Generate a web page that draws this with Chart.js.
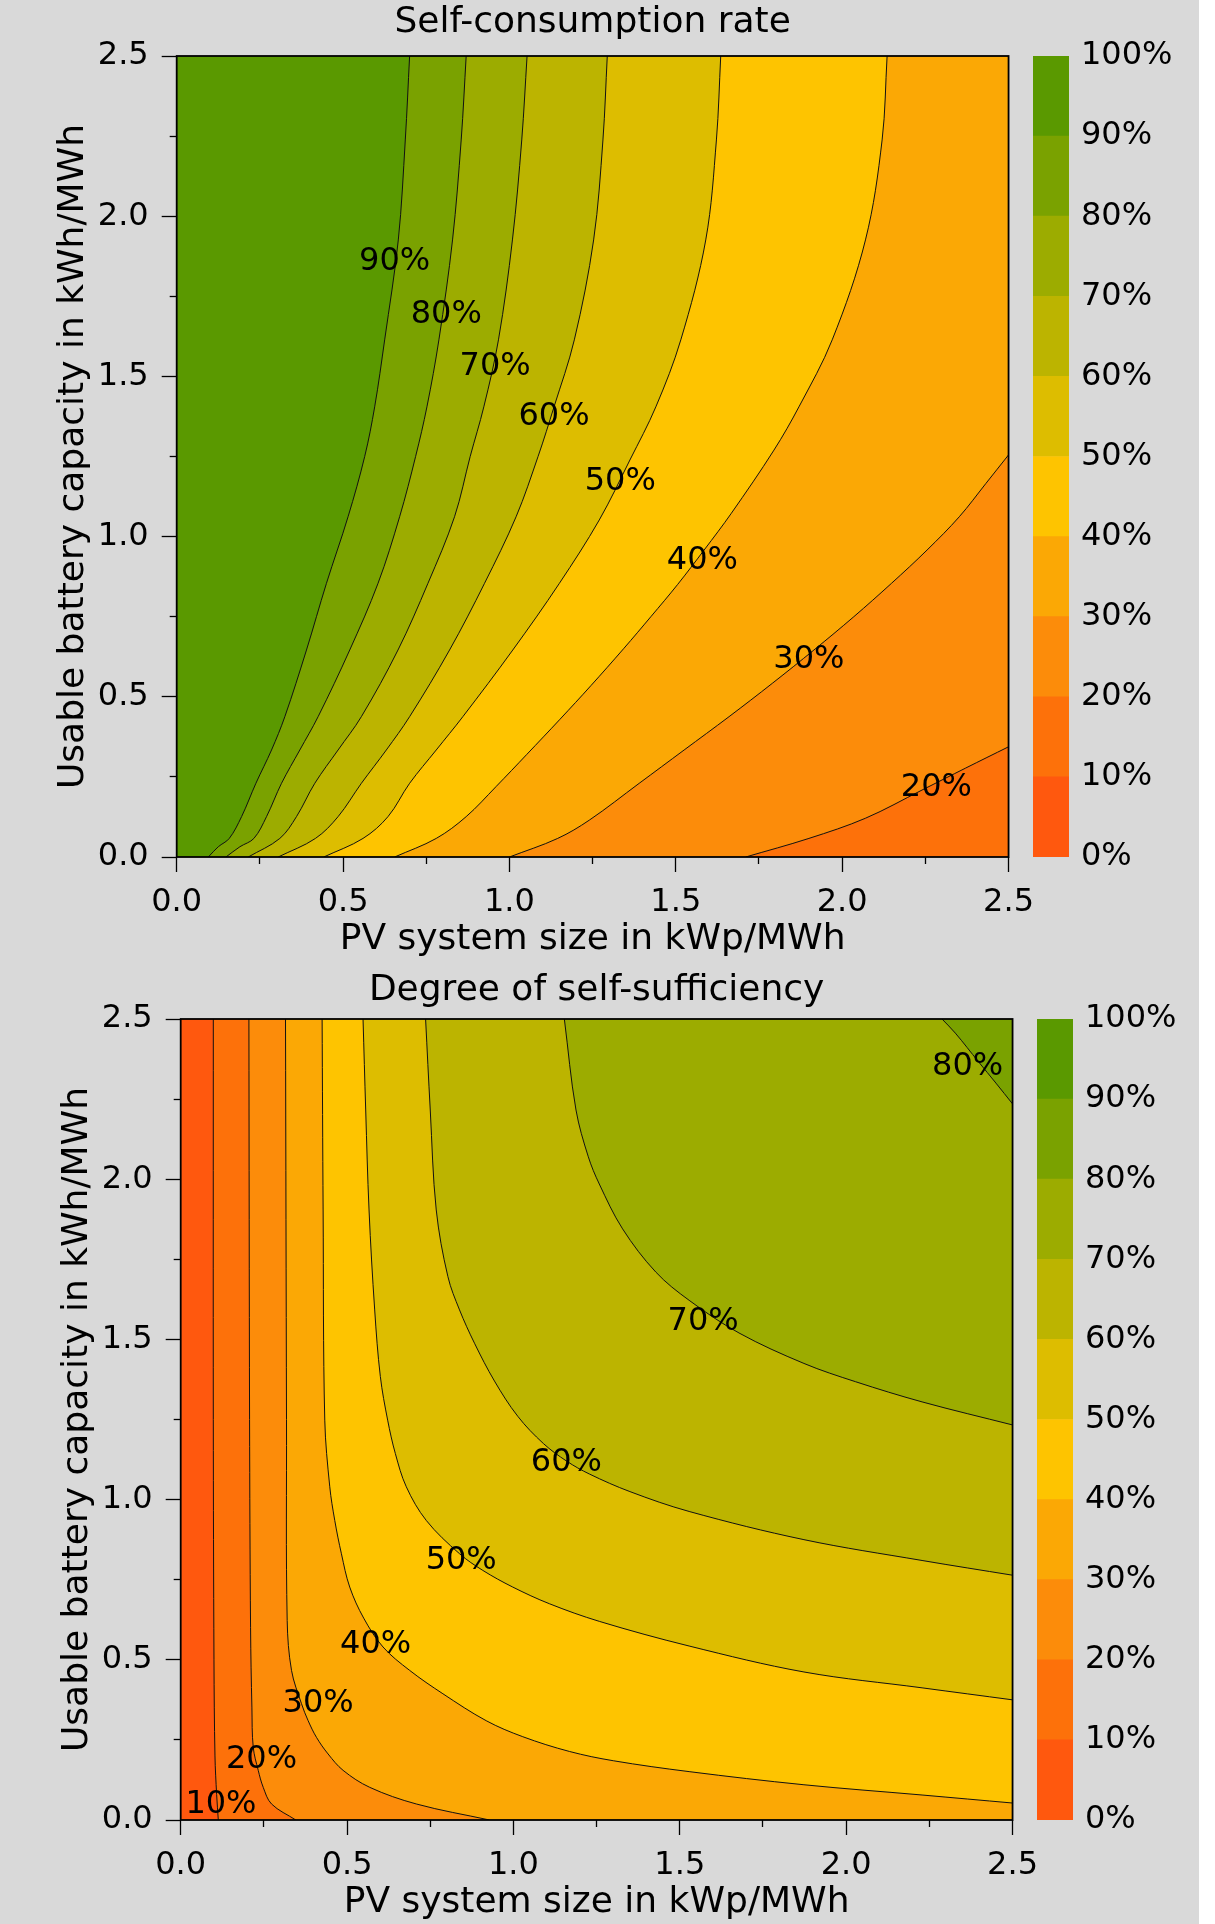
<!DOCTYPE html>
<html>
<head>
<meta charset="utf-8">
<script src="https://cdn.jsdelivr.net/npm/chart.js@4.4.1/dist/chart.umd.min.js"></script>
<style>
  html, body { margin: 0; padding: 0; background: #fff; }
  #page { position: relative; width: 1215px; height: 1924px; overflow: hidden; }
  #bg { position: absolute; left: 0; top: 0; width: 1199px; height: 1924px; background: #d9d9d9; }
  canvas { position: absolute; }
</style>
</head>
<body>
<div id="page">
  <div id="bg"></div>
  <canvas id="scChart" width="1045" height="962" style="left:0;top:0"></canvas>
  <canvas id="scBar" width="179" height="962" style="left:1020px;top:0"></canvas>
  <canvas id="ssChart" width="1045" height="962" style="left:4px;top:962px"></canvas>
  <canvas id="ssBar" width="179" height="962" style="left:1024px;top:962px"></canvas>
</div>
<script>
// === Data ===
// axis range of both maps (kWp/MWh, kWh/MWh)
const X_MIN = 0, X_MAX = 2.5, Y_MIN = 0, Y_MAX = 2.5;

// colour bands 0-10% ... 90-100%
const bandEdges = [0, 10, 20, 30, 40, 50, 60, 70, 80, 90, 100];
const bandColors = ["#ff580e", "#fd710a", "#fc8c0a", "#fba805", "#fec400",
                    "#ddbd00", "#bcb400", "#9cac00", "#7aa200", "#5a9900"];

// Self-consumption rate: contour lines, bottom edge -> top/right edge
const scLevels = [20, 30, 40, 50, 60, 70, 80, 90];
const scLineX = [
  [1.71, 1.90, 2.07, 2.24, 2.37, 2.5],
  [1.0, 1.145, 1.24, 1.39, 1.525, 1.66, 1.79, 1.915, 2.035, 2.148, 2.255, 2.352, 2.432, 2.5],
  [0.655, 0.78, 0.87, 0.96, 1.052, 1.152, 1.245, 1.343, 1.425, 1.505, 1.585, 1.667, 1.795, 1.87, 1.97, 2.07, 2.12, 2.135],
  [0.442, 0.56, 0.635, 0.70, 0.78, 0.86, 1.01, 1.15, 1.27, 1.362, 1.44, 1.515, 1.59, 1.622, 1.635],
  [0.305, 0.417, 0.485, 0.555, 0.63, 0.70, 0.82, 0.925, 1.02, 1.086, 1.134, 1.195, 1.253, 1.281, 1.294],
  [0.215, 0.31, 0.36, 0.415, 0.485, 0.555, 0.665, 0.755, 0.835, 0.882, 0.923, 0.967, 1.009, 1.037, 1.053],
  [0.148, 0.19, 0.232, 0.27, 0.315, 0.37, 0.425, 0.52, 0.605, 0.67, 0.718, 0.752, 0.788, 0.829, 0.855, 0.870],
  [0.095, 0.125, 0.158, 0.195, 0.238, 0.285, 0.325, 0.39, 0.45, 0.515, 0.565, 0.595, 0.625, 0.666, 0.687, 0.700]
];
const scLineY = [
  [0, 0.058, 0.121, 0.209, 0.277, 0.344],
  [0, 0.058, 0.115, 0.23, 0.334, 0.438, 0.542, 0.646, 0.75, 0.854, 0.958, 1.062, 1.166, 1.255],
  [0, 0.058, 0.126, 0.22, 0.32, 0.43, 0.535, 0.65, 0.75, 0.85, 0.958, 1.073, 1.27, 1.405, 1.614, 1.926, 2.238, 2.5],
  [0, 0.058, 0.126, 0.23, 0.334, 0.438, 0.646, 0.854, 1.052, 1.239, 1.405, 1.614, 1.926, 2.238, 2.5],
  [0, 0.058, 0.126, 0.23, 0.334, 0.438, 0.646, 0.854, 1.062, 1.25, 1.405, 1.614, 1.926, 2.238, 2.5],
  [0, 0.058, 0.126, 0.23, 0.334, 0.438, 0.646, 0.854, 1.062, 1.25, 1.405, 1.614, 1.926, 2.238, 2.5],
  [0, 0.032, 0.058, 0.126, 0.23, 0.334, 0.438, 0.646, 0.854, 1.062, 1.25, 1.405, 1.614, 1.926, 2.238, 2.5],
  [0, 0.032, 0.058, 0.126, 0.23, 0.334, 0.438, 0.646, 0.854, 1.062, 1.25, 1.405, 1.614, 1.926, 2.238, 2.5]
];
const scLabelText = ["90%", "80%", "70%", "60%", "50%", "40%", "30%", "20%"];
const scLabelX = [0.655, 0.81, 0.957, 1.134, 1.333, 1.58, 1.90, 2.283];
const scLabelY = [1.863, 1.698, 1.537, 1.38, 1.177, 0.932, 0.622, 0.223];

// Degree of self-sufficiency: contour lines, top edge -> bottom/right edge
const ssLevels = [10, 20, 30, 40, 50, 60, 70, 80];
const ssLineX = [
  [0.098, 0.098, 0.1, 0.103, 0.108, 0.113],
  [0.205, 0.207, 0.21, 0.214, 0.218, 0.233, 0.248, 0.273, 0.346],
  [0.315, 0.318, 0.32, 0.333, 0.363, 0.383, 0.408, 0.443, 0.488, 0.568, 0.708, 0.928],
  [0.425, 0.428, 0.433, 0.448, 0.463, 0.483, 0.508, 0.55, 0.608, 0.688, 0.788, 0.918, 1.028, 1.168, 1.3, 1.528, 1.873, 2.228, 2.5],
  [0.548, 0.556, 0.566, 0.583, 0.600, 0.622, 0.645, 0.678, 0.738, 0.838, 0.908, 0.998, 1.108, 1.258, 1.528, 1.873, 2.228, 2.5],
  [0.736, 0.75, 0.768, 0.803, 0.838, 0.883, 0.943, 1.013, 1.09, 1.16, 1.228, 1.35, 1.528, 1.873, 2.228, 2.5],
  [1.153, 1.188, 1.225, 1.258, 1.328, 1.428, 1.528, 1.678, 1.873, 2.028, 2.228, 2.5],
  [2.288, 2.328, 2.398, 2.45, 2.5]
];
const ssLineY = [
  [2.5, 1.25, 0.5, 0.2, 0.08, 0],
  [2.5, 1.25, 0.6, 0.35, 0.227, 0.155, 0.102, 0.05, 0],
  [2.5, 1.25, 0.623, 0.467, 0.363, 0.31, 0.258, 0.206, 0.155, 0.102, 0.05, 0],
  [2.5, 1.904, 1.248, 1.04, 0.935, 0.831, 0.727, 0.63, 0.54, 0.467, 0.394, 0.31, 0.26, 0.214, 0.185, 0.151, 0.11, 0.078, 0.053],
  [2.5, 2.216, 1.904, 1.592, 1.384, 1.248, 1.144, 1.04, 0.935, 0.831, 0.779, 0.727, 0.675, 0.62, 0.543, 0.462, 0.4125, 0.375],
  [2.5, 2.216, 1.904, 1.696, 1.592, 1.488, 1.37, 1.26, 1.175, 1.12, 1.08, 1.025, 0.963, 0.875, 0.81, 0.764],
  [2.5, 2.216, 2.07, 1.985, 1.845, 1.71, 1.622, 1.52, 1.425, 1.368, 1.305, 1.233],
  [2.5, 2.456, 2.366, 2.3, 2.235]
];
const ssLabelText = ["80%", "70%", "60%", "50%", "40%", "30%", "20%", "10%"];
const ssLabelX = [2.365, 1.57, 1.159, 0.843, 0.586, 0.413, 0.243, 0.121];
const ssLabelY = [2.357, 1.56, 1.121, 0.815, 0.553, 0.37, 0.196, 0.054];

Chart.defaults.font.family = "'DejaVu Sans', sans-serif";
Chart.defaults.color = "#000";

const CURVE = 0.35; // spline tension of the contour lines

// === Helpers ===
function toPoints(xs, ys) {
  return xs.map((x, i) => ({ x: x, y: ys[i] }));
}

// 0 bottom, 1 right, 2 top, 3 left
function edgeOf(p) {
  if (p.y === Y_MIN) return 0;
  if (p.x === X_MAX) return 1;
  if (p.y === Y_MAX) return 2;
  return 3;
}

// close a contour into the area on its left by walking the frame counter-clockwise.
// end point and corners are doubled so the spline stays sharp there and the
// curved part matches the stroked contour exactly
function regionShape(pts) {
  const corners = [
    { x: X_MAX, y: Y_MIN }, { x: X_MAX, y: Y_MAX },
    { x: X_MIN, y: Y_MAX }, { x: X_MIN, y: Y_MIN }
  ];
  const shape = pts.slice();
  shape.push(pts[pts.length - 1]);
  const start = edgeOf(pts[0]);
  let e = edgeOf(pts[pts.length - 1]);
  while (e !== start) {
    shape.push(corners[e], corners[e]);
    e = (e + 1) % 4;
  }
  shape.push(pts[0]);
  return shape;
}

function buildDatasets(levels, lineX, lineY) {
  const sets = [];
  const frame = [
    { x: X_MIN, y: Y_MIN }, { x: X_MAX, y: Y_MIN },
    { x: X_MAX, y: Y_MAX }, { x: X_MIN, y: Y_MAX }, { x: X_MIN, y: Y_MIN }
  ];
  const area = (data, color, order, tension) => ({
    data: data, fill: "shape", backgroundColor: color,
    borderColor: "transparent", borderWidth: 0,
    pointRadius: 0, pointHoverRadius: 0, tension: tension, order: order
  });

  // lowest band covers the whole frame first
  sets.push(area(frame, bandColors[bandEdges.indexOf(levels[0]) - 1], 1000, 0));

  levels.forEach((lvl, i) => {
    const pts = toPoints(lineX[i], lineY[i]);
    sets.push(area(regionShape(pts), bandColors[bandEdges.indexOf(lvl)], 500 - i, CURVE));
  });

  // contour lines on top
  levels.forEach((lvl, i) => {
    sets.push({
      data: toPoints(lineX[i], lineY[i]), fill: false,
      borderColor: "#111", borderWidth: 1,
      pointRadius: 0, pointHoverRadius: 0, tension: CURVE, order: 0
    });
  });
  return sets;
}

const isMajor = v => Math.abs(v * 2 - Math.round(v * 2)) < 1e-9;

function axis(isX, label) {
  return {
    type: "linear",
    position: isX ? "bottom" : "left",
    min: isX ? X_MIN : Y_MIN,
    max: isX ? X_MAX : Y_MAX,
    ticks: {
      stepSize: 0.25, autoSkip: false, maxRotation: 0,
      font: { size: 32 }, color: "#000",
      padding: isX ? 11 : 13,
      callback: v => isMajor(v) ? v.toFixed(1) : ""
    },
    grid: {
      drawOnChartArea: false, drawTicks: true, tickLength: 15,
      tickColor: "#000", tickWidth: 1.3,
      // minor ticks: only the 7px next to the frame
      tickBorderDash: ctx => isMajor(ctx.tick.value) ? [] : (isX ? [7, 100] : [7, 8]),
      tickBorderDashOffset: ctx => (isMajor(ctx.tick.value) || isX) ? 0 : 7
    },
    border: { display: false },
    title: {
      display: true, text: label, color: "#000",
      font: { size: 36 },
      padding: isX ? { top: 0, bottom: 0 } : { top: 52, bottom: 0 }
    },
    afterFit: s => {
      if (isX) s.height = 104; else s.width = 176.7;
    }
  };
}

// frame + inline contour labels
function mapPlugin(texts, xs, ys) {
  return {
    id: "mapFrame",
    afterDatasetsDraw(chart) {
      const { ctx, chartArea: a, scales } = chart;
      ctx.save();
      ctx.strokeStyle = "#000";
      ctx.lineWidth = 1.8;
      ctx.strokeRect(a.left, a.top, a.right - a.left, a.bottom - a.top);
      ctx.font = "32px 'DejaVu Sans'";
      ctx.fillStyle = "#000";
      ctx.textAlign = "center";
      ctx.textBaseline = "middle";
      texts.forEach((t, i) => {
        ctx.fillText(t, scales.x.getPixelForValue(xs[i]), scales.y.getPixelForValue(ys[i]) + 2);
      });
      ctx.restore();
    }
  };
}

function contourChart(id, title, titlePad, padBottom, datasets, plugin) {
  return new Chart(document.getElementById(id), {
    type: "line",
    data: { datasets: datasets },
    options: {
      responsive: false,
      animation: false,
      events: [],
      layout: { padding: { left: 0, right: 35, top: 0, bottom: padBottom } },
      plugins: {
        legend: { display: false },
        tooltip: { enabled: false },
        title: {
          display: true, text: title, fullSize: false, color: "#000",
          font: { size: 36, weight: "normal" }, padding: titlePad
        }
      },
      scales: {
        x: axis(true, "PV system size in kWp/MWh"),
        y: axis(false, "Usable battery capacity in kWh/MWh")
      }
    },
    plugins: [plugin]
  });
}

function colorbar(id, padTop, padBottom) {
  return new Chart(document.getElementById(id), {
    type: "bar",
    data: {
      labels: [""],
      datasets: bandColors.map((c, i) => ({
        data: [[bandEdges[i], bandEdges[i + 1]]],
        backgroundColor: c, borderWidth: 0, grouped: false,
        barPercentage: 1, categoryPercentage: 1
      }))
    },
    options: {
      responsive: false,
      animation: false,
      events: [],
      layout: { padding: { left: 13, right: 0, top: padTop, bottom: padBottom } },
      plugins: { legend: { display: false }, tooltip: { enabled: false } },
      scales: {
        x: { display: false },
        y: {
          position: "right", min: 0, max: 100,
          ticks: { stepSize: 10, padding: 12, font: { size: 32 }, color: "#000", callback: v => v + "%" },
          grid: { display: false, drawTicks: false },
          border: { display: false },
          afterFit: s => { s.width = 130; }
        }
      }
    }
  });
}

// === Page Bootstrap ===
contourChart("scChart", "Self-consumption rate", { top: 1, bottom: 11.8 }, 1,
  buildDatasets(scLevels, scLineX, scLineY),
  mapPlugin(scLabelText, scLabelX, scLabelY));
colorbar("scBar", 56, 105);

contourChart("ssChart", "Degree of self-sufficiency", { top: 7.4, bottom: 6.4 }, 0,
  buildDatasets(ssLevels, ssLineX, ssLineY),
  mapPlugin(ssLabelText, ssLabelX, ssLabelY));
colorbar("ssBar", 57, 104);
</script>
</body>
</html>
